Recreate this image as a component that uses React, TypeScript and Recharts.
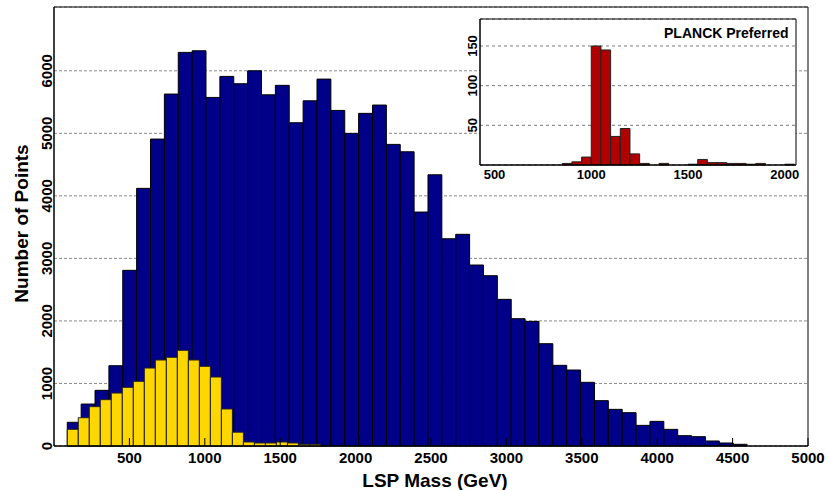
import React from 'react';
import { ComposedChart, XAxis, YAxis, CartesianGrid, ReferenceArea } from 'recharts';

// ---------- data ----------
// Main histogram: all points (blue), bins of 92 GeV starting at 88 GeV
const blueStart = 88;
const blueWidth = 92;
const blueCounts = [
  379, 671, 890, 1284, 2809, 4120, 4908, 5628, 6294, 6320,
  5574, 5910, 5793, 6000, 5616, 5767, 5169, 5520, 5867, 5366,
  4999, 5319, 5452, 4823, 4705, 3741, 4337, 3314, 3385, 2894,
  2723, 2345, 2036, 1993, 1636, 1290, 1215, 1018, 725, 586,
  533, 330, 394, 266, 165, 149, 80, 48, 27,
];
// Yellow sub-sample, bins of 73 GeV starting at 88 GeV
const yellowStart = 88;
const yellowWidth = 73;
const yellowCounts = [
  267, 452, 629, 741, 847, 938, 1034, 1247, 1375, 1418,
  1530, 1375, 1274, 1103, 592, 221, 64, 48, 48, 64,
  48, 27, 27, 8,
];
// Inset: PLANCK preferred, bins of 50 GeV starting at 850 GeV
const redStart = 850;
const redWidth = 50;
const redCounts = [
  2, 4, 10, 150, 145, 36, 46, 14, 2, 0,
  2, 0, 0, 1, 7, 3, 3, 2, 2, 1,
  2, 0, 0, 1,
];

const mainXTicks = [500, 1000, 1500, 2000, 2500, 3000, 3500, 4000, 4500, 5000];
const mainYTicks = [0, 1000, 2000, 3000, 4000, 5000, 6000];
const insetXTicks = [500, 1000, 1500, 2000];
const insetYTicks = [0, 50, 100, 150];

const mainXDomain = [0, 5000];
const mainYDomain = [0, 7020];
const insetXDomain = [425, 2058];
const insetYDomain = [0, 184];

const xTitle = 'LSP Mass (GeV)';
const yTitle = 'Number of Points';
const insetTitle = 'PLANCK Preferred';

// ---------- style ----------
const FONT = "'Liberation Sans', Arial, Helvetica, sans-serif";
const BLUE = '#000088';
const YELLOW = '#ffd700';
const RED = '#b00000';

const toBins = (start: number, width: number, counts: number[]) =>
  counts.map((c, i) => ({ lo: start + i * width, hi: start + (i + 1) * width, count: c, x: start + (i + 0.5) * width }));

const blueBins = toBins(blueStart, blueWidth, blueCounts);
const yellowBins = toBins(yellowStart, yellowWidth, yellowCounts);
const redBins = toBins(redStart, redWidth, redCounts);

const MainXTick = (props: any) => {
  const { x, y, payload } = props;
  return (
    <g>
      <line x1={x} x2={x} y1={y} y2={y - 8} stroke="#000" strokeWidth={1} />
      <text x={x} y={y + 16.5} textAnchor="middle" fontFamily={FONT} fontWeight="bold" fontSize={15} fill="#000">
        {payload.value}
      </text>
    </g>
  );
};

const MainYTick = (props: any) => {
  const { x, y, payload } = props;
  const tx = x - 2;
  return (
    <text x={tx} y={y} transform={`rotate(-90, ${tx}, ${y})`} textAnchor="middle" fontFamily={FONT} fontWeight="bold" fontSize={15} fill="#000">
      {payload.value}
    </text>
  );
};

const InsetXTick = (props: any) => {
  const { x, y, payload } = props;
  return (
    <text x={x} y={y + 13.5} textAnchor="middle" fontFamily={FONT} fontWeight="bold" fontSize={13} fill="#000">
      {payload.value}
    </text>
  );
};

const InsetYTick = (props: any) => {
  const { x, y, payload } = props;
  if (payload.value === 0) return <g />;
  const tx = x - 3;
  return (
    <text x={tx} y={y} transform={`rotate(-90, ${tx}, ${y})`} textAnchor="middle" fontFamily={FONT} fontWeight="bold" fontSize={13} fill="#000">
      {payload.value}
    </text>
  );
};

const renderXTitle = () => (
  <text x={435} y={487} textAnchor="middle" fontFamily={FONT} fontWeight="bold" fontSize={19} fill="#000">
    {xTitle}
  </text>
);

const renderYTitle = () => (
  <text x={28} y={223.5} transform="rotate(-90, 28, 223.5)" textAnchor="middle" fontFamily={FONT} fontWeight="bold" fontSize={19} fill="#000">
    {yTitle}
  </text>
);

const renderInsetTitle = () => (
  <text x={333.5} y={27.5} textAnchor="end" fontFamily={FONT} fontWeight="bold" fontSize={14} fill="#000">
    {insetTitle}
  </text>
);

export default function App() {
  return (
    <div style={{ position: 'absolute', left: 0, top: 0, width: 828, height: 490, background: '#fff', overflow: 'hidden' }}>
      <ComposedChart width={828} height={490} data={blueBins} margin={{ top: 7, right: 20, bottom: 0, left: 0 }}>
        <CartesianGrid horizontal vertical={false} stroke="#8a8a8a" strokeDasharray="3 2" />
        {blueBins.map((b, i) => (
          <ReferenceArea key={'b' + i} x1={b.lo} x2={b.hi} y1={0} y2={b.count} fill={BLUE} fillOpacity={1} stroke="#000" strokeWidth={1} ifOverflow="visible" />
        ))}
        {yellowBins.map((b, i) => (
          <ReferenceArea key={'y' + i} x1={b.lo} x2={b.hi} y1={0} y2={b.count} fill={YELLOW} fillOpacity={1} stroke="#222" strokeWidth={1} ifOverflow="visible" />
        ))}
        <ReferenceArea x1={mainXDomain[0]} x2={mainXDomain[1]} y1={mainYDomain[0]} y2={mainYDomain[1]} fill="none" stroke="#000" strokeWidth={1} ifOverflow="visible" />
        <XAxis
          type="number"
          dataKey="x"
          domain={mainXDomain}
          ticks={mainXTicks}
          interval={0}
          allowDataOverflow
          height={44}
          tickSize={0}
          tickMargin={0}
          tickLine={false}
          axisLine={{ stroke: '#000' }}
          tick={MainXTick}
          label={renderXTitle}
        />
        <YAxis
          type="number"
          domain={mainYDomain}
          ticks={mainYTicks}
          interval={0}
          allowDataOverflow
          width={54}
          tickSize={0}
          tickMargin={0}
          tickLine={false}
          axisLine={{ stroke: '#000' }}
          tick={MainYTick}
          label={renderYTitle}
        />
      </ComposedChart>

      <div style={{ position: 'absolute', left: 455, top: 10, width: 350, height: 175 }}>
        <ComposedChart width={350} height={175} data={redBins} margin={{ top: 9, right: 9, bottom: 0, left: 0 }}>
          <CartesianGrid horizontal vertical={false} fill="#fff" fillOpacity={1} stroke="#7a7a7a" strokeDasharray="3 3" />
          {redBins.filter((b) => b.count > 0).map((b, i) => (
            <ReferenceArea key={'r' + i} x1={b.lo} x2={b.hi} y1={0} y2={b.count} fill={RED} fillOpacity={1} stroke="#222" strokeWidth={1} ifOverflow="visible" />
          ))}
          <ReferenceArea x1={insetXDomain[0]} x2={insetXDomain[1]} y1={insetYDomain[0]} y2={insetYDomain[1]} fill="none" stroke="#000" strokeWidth={1} ifOverflow="visible" />
          <XAxis
            type="number"
            dataKey="x"
            domain={insetXDomain}
            ticks={insetXTicks}
            interval={0}
            allowDataOverflow
            height={20}
            tickSize={0}
            tickMargin={0}
            tickLine={false}
            axisLine={{ stroke: '#000' }}
            tick={InsetXTick}
            label={renderInsetTitle}
          />
          <YAxis
            type="number"
            domain={insetYDomain}
            ticks={insetYTicks}
            interval={0}
            allowDataOverflow
            width={25}
            tickSize={0}
            tickMargin={0}
            tickLine={false}
            axisLine={{ stroke: '#000' }}
            tick={InsetYTick}
          />
        </ComposedChart>
      </div>
    </div>
  );
}
